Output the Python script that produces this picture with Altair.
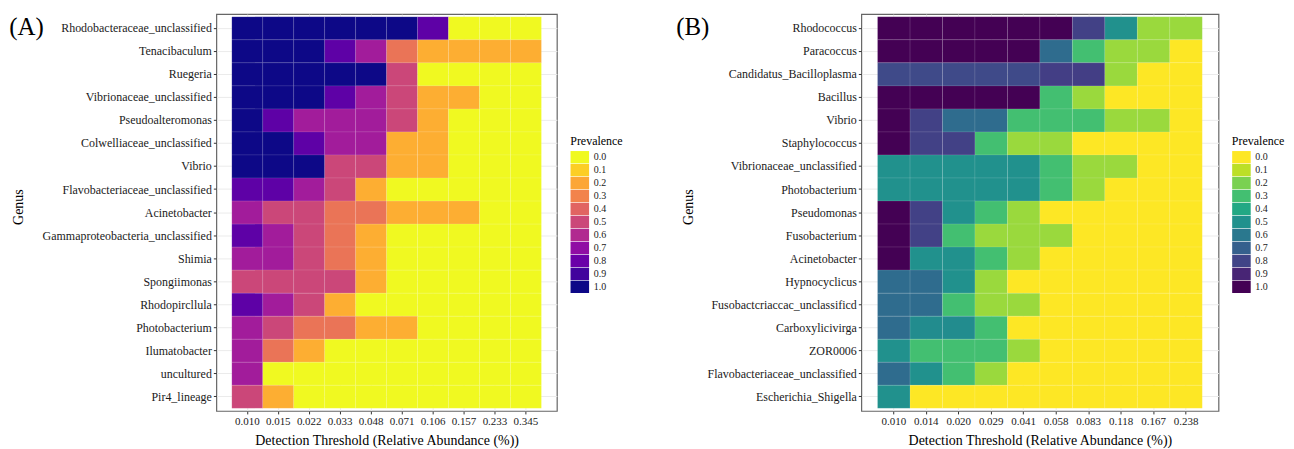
import altair as alt
import pandas as pd

SERIF = "Liberation Serif"

# ---------------- Panel A data ----------------
thresholds_a = ["0.010", "0.015", "0.022", "0.033", "0.048",
                "0.071", "0.106", "0.157", "0.233", "0.345"]
genera_a = ["Rhodobacteraceae_unclassified", "Tenacibaculum", "Ruegeria",
            "Vibrionaceae_unclassified", "Pseudoalteromonas",
            "Colwelliaceae_unclassified", "Vibrio",
            "Flavobacteriaceae_unclassified", "Acinetobacter",
            "Gammaproteobacteria_unclassified", "Shimia", "Spongiimonas",
            "Rhodopircllula", "Photobacterium", "Ilumatobacter",
            "uncultured", "Pir4_lineage"]
prevalence_a = [
    [1.00, 1.00, 1.00, 1.00, 1.00, 1.00, 0.83, 0.00, 0.00, 0.00],
    [1.00, 1.00, 1.00, 0.83, 0.65, 0.35, 0.18, 0.18, 0.18, 0.18],
    [1.00, 1.00, 1.00, 1.00, 1.00, 0.50, 0.00, 0.00, 0.00, 0.00],
    [1.00, 1.00, 1.00, 0.83, 0.65, 0.50, 0.18, 0.18, 0.00, 0.00],
    [1.00, 0.83, 0.65, 0.65, 0.65, 0.50, 0.18, 0.00, 0.00, 0.00],
    [1.00, 1.00, 0.83, 0.65, 0.65, 0.18, 0.18, 0.00, 0.00, 0.00],
    [1.00, 1.00, 1.00, 0.50, 0.50, 0.18, 0.18, 0.00, 0.00, 0.00],
    [0.83, 0.83, 0.65, 0.50, 0.18, 0.00, 0.00, 0.00, 0.00, 0.00],
    [0.65, 0.50, 0.50, 0.35, 0.35, 0.18, 0.18, 0.18, 0.00, 0.00],
    [0.83, 0.65, 0.50, 0.35, 0.18, 0.00, 0.00, 0.00, 0.00, 0.00],
    [0.65, 0.65, 0.50, 0.35, 0.18, 0.00, 0.00, 0.00, 0.00, 0.00],
    [0.50, 0.50, 0.50, 0.50, 0.18, 0.00, 0.00, 0.00, 0.00, 0.00],
    [0.83, 0.65, 0.50, 0.18, 0.00, 0.00, 0.00, 0.00, 0.00, 0.00],
    [0.65, 0.50, 0.35, 0.35, 0.18, 0.18, 0.00, 0.00, 0.00, 0.00],
    [0.65, 0.35, 0.18, 0.00, 0.00, 0.00, 0.00, 0.00, 0.00, 0.00],
    [0.65, 0.00, 0.00, 0.00, 0.00, 0.00, 0.00, 0.00, 0.00, 0.00],
    [0.50, 0.18, 0.00, 0.00, 0.00, 0.00, 0.00, 0.00, 0.00, 0.00],
]

# ---------------- Panel B data ----------------
thresholds_b = ["0.010", "0.014", "0.020", "0.029", "0.041",
                "0.058", "0.083", "0.118", "0.167", "0.238"]
genera_b = ["Rhodococcus", "Paracoccus", "Candidatus_Bacilloplasma",
            "Bacillus", "Vibrio", "Staphylococcus",
            "Vibrionaceae_unclassified", "Photobacterium", "Pseudomonas",
            "Fusobacterium", "Acinetobacter", "Hypnocyclicus",
            "Fusobactcriaccac_unclassificd", "Carboxylicivirga", "ZOR0006",
            "Flavobacteriaceae_unclassified", "Escherichia_Shigella"]
prevalence_b = [
    [1.00, 1.00, 1.00, 1.00, 1.00, 1.00, 0.81, 0.50, 0.15, 0.15],
    [1.00, 1.00, 1.00, 1.00, 1.00, 0.65, 0.30, 0.15, 0.15, 0.00],
    [0.78, 0.78, 0.78, 0.78, 0.78, 0.82, 0.82, 0.15, 0.00, 0.00],
    [1.00, 1.00, 1.00, 1.00, 1.00, 0.30, 0.15, 0.00, 0.00, 0.00],
    [1.00, 0.81, 0.65, 0.65, 0.30, 0.30, 0.30, 0.15, 0.15, 0.00],
    [1.00, 0.81, 0.81, 0.30, 0.15, 0.15, 0.00, 0.00, 0.00, 0.00],
    [0.50, 0.50, 0.50, 0.50, 0.50, 0.30, 0.15, 0.15, 0.00, 0.00],
    [0.50, 0.50, 0.50, 0.50, 0.50, 0.30, 0.15, 0.00, 0.00, 0.00],
    [1.00, 0.81, 0.50, 0.30, 0.15, 0.00, 0.00, 0.00, 0.00, 0.00],
    [1.00, 0.81, 0.30, 0.15, 0.15, 0.15, 0.00, 0.00, 0.00, 0.00],
    [1.00, 0.50, 0.50, 0.30, 0.15, 0.00, 0.00, 0.00, 0.00, 0.00],
    [0.65, 0.65, 0.50, 0.15, 0.00, 0.00, 0.00, 0.00, 0.00, 0.00],
    [0.65, 0.65, 0.30, 0.15, 0.15, 0.00, 0.00, 0.00, 0.00, 0.00],
    [0.65, 0.52, 0.52, 0.30, 0.00, 0.00, 0.00, 0.00, 0.00, 0.00],
    [0.50, 0.30, 0.30, 0.30, 0.15, 0.00, 0.00, 0.00, 0.00, 0.00],
    [0.65, 0.50, 0.30, 0.15, 0.00, 0.00, 0.00, 0.00, 0.00, 0.00],
    [0.50, 0.00, 0.00, 0.00, 0.00, 0.00, 0.00, 0.00, 0.00, 0.00],
]

legend_values = [0.0, 0.1, 0.2, 0.3, 0.4, 0.5, 0.6, 0.7, 0.8, 0.9, 1.0]
x_title = "Detection Threshold (Relative Abundance (%))"


def to_df(genera, thresholds, rows):
    recs = []
    for g, vals in zip(genera, rows):
        for t, v in zip(thresholds, vals):
            recs.append({"genus": g, "threshold": t, "prevalence": v})
    return pd.DataFrame(recs)


def panel(df, genera, thresholds, scheme, tag, width, tag_x, genus_x,
          legend_x, guard_x=None):
    height = 398
    heat = alt.Chart(df).mark_rect(
        stroke="white", strokeWidth=0.5, strokeOpacity=0.2
    ).encode(
        x=alt.X("threshold:N", sort=thresholds,
                scale=alt.Scale(paddingInner=0, paddingOuter=0.5),
                axis=alt.Axis(title=x_title, labelAngle=0, labelFontSize=11,
                              labelFont=SERIF, labelColor="#1a1a1a",
                              labelPadding=2, labelOverlap=False,
                              tickSize=3, tickColor="#333", domain=False,
                              grid=True, gridColor="#ebebeb", gridWidth=1,
                              zindex=0,
                              titleFont=SERIF, titleFontSize=14,
                              titleFontWeight="normal", titleColor="#000",
                              titleY=30, titleBaseline="middle")),
        y=alt.Y("genus:N", sort=genera,
                scale=alt.Scale(paddingInner=0, paddingOuter=0.115),
                axis=alt.Axis(title="Genus", labelFontSize=12,
                              labelFont=SERIF, labelColor="#1a1a1a",
                              labelPadding=2, labelOverlap=False,
                              tickSize=3, tickColor="#333", domain=False,
                              grid=True, gridColor="#ebebeb", gridWidth=1,
                              zindex=0,
                              titleFont=SERIF, titleFontSize=14,
                              titleFontWeight="normal", titleColor="#000",
                              titleAngle=270, titleX=genus_x, titleY=193,
                              titleAlign="center", titleBaseline="middle")),
        color=alt.Color("prevalence:Q",
                        scale=alt.Scale(scheme=scheme, reverse=True,
                                        domain=[0, 1]),
                        legend=alt.Legend(
                            type="symbol", values=legend_values,
                            format=".1f", title="Prevalence",
                            orient="none", legendX=legend_x, legendY=122,
                            padding=0, titleFont=SERIF, titleFontSize=12,
                            titleFontWeight="normal", titleColor="#000",
                            titlePadding=3, labelFont=SERIF,
                            labelFontSize=10, labelColor="#1a1a1a",
                            labelOffset=10.5,
                            symbolType="M-1,-1H2V1H-1Z",
                            symbolSize=12.4 * 12.4, symbolStrokeWidth=0,
                            symbolOpacity=1, rowPadding=0)),
    )
    tag_layer = alt.Chart(pd.DataFrame({"t": [tag]})).mark_text(
        align="left", baseline="middle", fontSize=25, font=SERIF,
        color="#000"
    ).encode(text="t:N", x=alt.value(tag_x), y=alt.value(13.3))
    layers = [heat, tag_layer]
    if guard_x is not None:
        guard = alt.Chart(pd.DataFrame({"g": [0]})).mark_rule(
            color="white", strokeWidth=1
        ).encode(x=alt.value(guard_x), y=alt.value(200), y2=alt.value(201))
        layers.append(guard)
    return alt.layer(*layers).properties(width=width, height=height)


df_a = to_df(genera_a, thresholds_a, prevalence_a)
df_b = to_df(genera_b, thresholds_b, prevalence_b)

chart_a = panel(df_a, genera_a, thresholds_a, "plasma", "(A)", 341.6,
                tag_x=-207.8, genus_x=-198.7, legend_x=355, guard_x=440)
chart_b = panel(df_b, genera_b, thresholds_b, "viridis", "(B)", 358.3,
                tag_x=-185.7, genus_x=-173.3, legend_x=371.7)

chart = alt.hconcat(chart_a, chart_b, spacing=18).resolve_scale(
    color="independent", x="independent", y="independent"
).properties(
    padding={"left": 0, "top": 4.5, "right": 0, "bottom": 0}
).configure_view(stroke="#666", strokeWidth=1.2)

chart.save("out.html", embed_options={"renderer": "svg", "actions": False})
